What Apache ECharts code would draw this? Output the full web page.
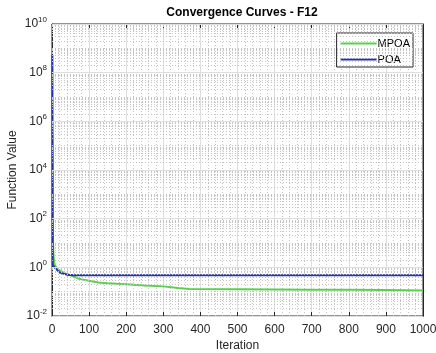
<!DOCTYPE html>
<html><head><meta charset="utf-8">
<script src="https://cdn.jsdelivr.net/npm/echarts@6/dist/echarts.min.js"></script>
<style>html,body{margin:0;padding:0;background:#fff}#c{width:436px;height:353px}</style>
</head><body><div id="c"></div>
<script>
const titleText = 'Convergence Curves - F12';
const seriesNames = ['MPOA', 'POA'];
const mpoaIter = [1, 2, 3, 4, 6, 8, 10, 15, 20, 30, 40, 50, 60, 70, 80, 100, 125, 150, 200, 250, 300, 340, 370, 500, 600, 700, 800, 900, 1000];
const mpoaVal = [3e5, 40, 8, 3, 1.6, 1.2, 1.0, 0.85, 0.75, 0.62, 0.53, 0.47, 0.41, 0.35, 0.32, 0.28, 0.24, 0.22, 0.2, 0.18, 0.165, 0.14, 0.128, 0.125, 0.123, 0.121, 0.119, 0.116, 0.113];
const poaIter = [1, 2, 5, 10, 15, 20, 30, 40, 60, 1000];
const poaVal = [5.5e8, 1.3, 1.05, 0.9, 0.75, 0.62, 0.55, 0.5, 0.47, 0.47];
const xTicks = [0, 100, 200, 300, 400, 500, 600, 700, 800, 900, 1000];
const yExpMin = -2, yExpMax = 10;

const font = 'Liberation Sans, Arial, Helvetica, sans-serif';
const axisCol = '#262626';

const gridLines = [];
for (let e = yExpMin; e < yExpMax; e++) {
  for (let m = 1; m <= 9; m++) {
    if (m === 1 && e % 2 === 0) {
      gridLines.push({yAxis: Math.pow(10, e), lineStyle: {type: 'solid', color: '#dedede', width: 1}});
    } else {
      gridLines.push({yAxis: m * Math.pow(10, e), lineStyle: {type: [1, 2], color: '#c4c4c4', width: 1}});
    }
  }
}
gridLines.push({yAxis: Math.pow(10, yExpMax), lineStyle: {type: 'solid', color: '#dedede', width: 1}});

const supFmt = v => {
  const e = Math.round(Math.log10(v));
  if (e % 2 !== 0) return '';
  return '{b|10}{s|' + e + '}';
};
const richTxt = {
  b: {fontSize: 12, fontFamily: font, color: axisCol},
  s: {fontSize: 8, fontFamily: font, color: axisCol, padding: [0, 0, 9, 0]}
};

const chart = echarts.init(document.getElementById('c'), null, {renderer: 'canvas'});
chart.setOption({
  animation: false,
  backgroundColor: '#fff',
  title: {text: titleText, left: 237, textAlign: 'center', top: 2,
    textStyle: {fontFamily: font, fontSize: 12, fontWeight: 'bold', color: '#000'}},
  legend: {
    data: seriesNames, orient: 'vertical', right: 23, top: 33, icon: 'rect',
    backgroundColor: '#fff', borderColor: axisCol, borderWidth: 1,
    padding: [5, 3, 2, 4], itemWidth: 36, itemHeight: 2, itemGap: 5,
    textStyle: {fontFamily: font, fontSize: 11, color: '#000', padding: [0, 0, 0, -4]}
  },
  grid: {left: 52, right: 13, top: 24, bottom: 37, outerBoundsMode: 'none', containLabel: false,
    show: true, borderColor: axisCol, borderWidth: 1, backgroundColor: 'transparent'},
  xAxis: [{
    type: 'value', min: 0, max: 1000, interval: 100,
    name: 'Iteration', nameLocation: 'middle', nameGap: 24, nameMoveOverlap: false,
    nameTextStyle: {fontFamily: font, fontSize: 12, color: axisCol},
    axisLine: {show: true, onZero: false, lineStyle: {color: axisCol}},
    axisTick: {show: true, inside: true, length: 4, lineStyle: {color: axisCol}},
    minorTick: {show: false},
    axisLabel: {fontFamily: font, fontSize: 12, color: axisCol, margin: 8, formatter: v => xTicks.indexOf(v) >= 0 ? String(v) : ''},
    splitLine: {show: true, lineStyle: {color: '#dedede', type: 'solid'}},
    minorSplitLine: {show: true, lineStyle: {color: '#c4c4c4', type: [1, 2]}}
  }, {
    type: 'value', min: 0, max: 1000, interval: 100, position: 'top',
    axisLine: {show: true, onZero: false, lineStyle: {color: axisCol}},
    axisTick: {show: true, inside: true, length: 4, lineStyle: {color: axisCol}},
    axisLabel: {show: false}, splitLine: {show: false}
  }],
  yAxis: [{
    type: 'log', logBase: 10, min: Math.pow(10, yExpMin), max: Math.pow(10, yExpMax), interval: 2,
    name: 'Function Value', nameLocation: 'middle', nameGap: 33, nameRotate: 90, nameMoveOverlap: false,
    nameTextStyle: {fontFamily: font, fontSize: 12, color: axisCol},
    axisLine: {show: true, onZero: false, lineStyle: {color: axisCol}},
    axisTick: {show: true, inside: true, length: 4, lineStyle: {color: axisCol}},
    axisLabel: {formatter: supFmt, rich: richTxt, margin: 5},
    splitLine: {show: false}
  }, {
    type: 'log', logBase: 10, min: Math.pow(10, yExpMin), max: Math.pow(10, yExpMax), interval: 2, position: 'right',
    axisLine: {show: true, onZero: false, lineStyle: {color: axisCol}},
    axisTick: {show: true, inside: true, length: 4, lineStyle: {color: axisCol}},
    axisLabel: {show: false}, splitLine: {show: false}
  }],
  series: [{
    name: 'grid', type: 'line', data: [], silent: true, z: 1,
    markLine: {silent: true, symbol: 'none', label: {show: false}, animation: false, data: gridLines}
  }, {
    name: 'MPOA', type: 'line', showSymbol: false, symbol: 'none', z: 3,
    lineStyle: {color: '#5ccf4c', width: 2}, itemStyle: {color: '#5ccf4c'},
    data: mpoaIter.map((x, i) => [x, mpoaVal[i]])
  }, {
    name: 'POA', type: 'line', showSymbol: false, symbol: 'none', z: 4,
    lineStyle: {color: '#2335a6', width: 2}, itemStyle: {color: '#2335a6'},
    data: poaIter.map((x, i) => [x, poaVal[i]])
  }]
});
</script></body></html>
